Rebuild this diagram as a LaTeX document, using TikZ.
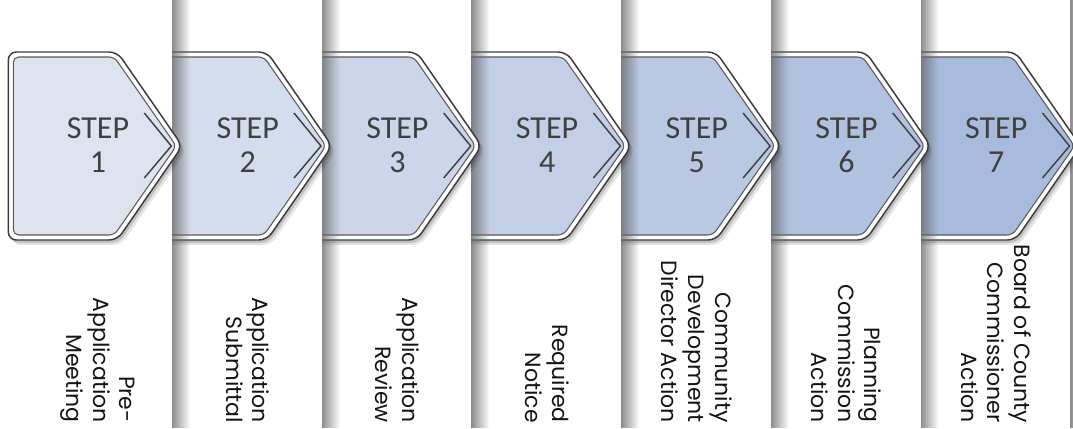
\documentclass[tikz,border=0pt]{standalone}
\usepackage{fontspec}
\newfontfamily\stepfont{Carlito}
\newfontfamily\labfont{Poppins}
\usetikzlibrary{fadings}
\definecolor{c1}{RGB}{221,228,240}
\definecolor{c2}{RGB}{212,221,237}
\definecolor{c3}{RGB}{203,214,234}
\definecolor{c4}{RGB}{195,207,231}
\definecolor{c5}{RGB}{186,201,227}
\definecolor{c6}{RGB}{177,194,224}
\definecolor{c7}{RGB}{168,187,221}
\definecolor{outline}{RGB}{60,60,60}
\definecolor{innerline}{RGB}{90,90,90}
\definecolor{steptext}{RGB}{64,64,64}
\definecolor{labtext}{RGB}{20,20,20}
\newcommand\ChevOuter[2]{(#1,52) -- (#2+95,52) -- (#2+160,146) -- (#2+95,240) -- (#1,240) -- cycle}
\newcommand\ChevInner[2]{(#1,57) -- (#2+92,57) -- (#2+154,146) -- (#2+92,235) -- (#1,235) -- cycle}
\begin{document}
\begin{tikzpicture}[x=0.75pt,y=-0.75pt,
  steptxt/.style={font=\stepfont\fontsize{24}{28}\selectfont, text=steptext, inner sep=0pt, anchor=base},
  labtxt/.style={font=\labfont\fontsize{16.5}{20}\selectfont, text=labtext, align=right, rotate=-90, anchor=east, inner sep=0pt},
  outerchev/.style={draw=outline, line width=1.1pt, fill=white, rounded corners=6pt},
  innerchev/.style={draw=innerline, line width=0.8pt, rounded corners=4pt},
  chevshadow/.style={fill=black, opacity=#1, rounded corners=6pt},
  markline/.style={draw=steptext, line width=1.1pt},
  colshadow/.style={fill=black!60, path fading=east},
]
\useasboundingbox (0,0) rectangle (1073,428);
\clip (0,0) rectangle (1073,428);
\fill[white] (0,0) rectangle (1073,428);
\foreach \i/\lab in {7/{Board of County\\Commissioner\\Action},
                     6/{Planning\\Commission\\Action},
                     5/{Community\\Development\\Director Action},
                     4/{Required\\Notice},
                     3/{Application\\Review},
                     2/{Application\\Submittal},
                     1/{Pre-\\Application\\Meeting}} {
  \pgfmathsetmacro\L{22.3+149.7*(\i-1)}
  \pgfmathsetmacro\R{\L+149.7}
  \pgfmathsetmacro\T{\L+75.7}
  \pgfmathsetmacro\Pl{ifthenelse(\i==1,0,\L)}
  \pgfmathsetmacro\Ol{\L-14}
  \pgfmathsetmacro\Il{\L-9}
  % shadow cast by this column onto the next one
  \fill[colshadow] (\R-6,0) rectangle (\R+18,428);
  % column panel
  \fill[white] (\Pl,0) rectangle (\R,428);
  % chevron drop shadow
  \fill[chevshadow=0.10, shift={(4,5)}] \ChevOuter{\Ol}{\L};
  \fill[chevshadow=0.15, shift={(2,3)}] \ChevOuter{\Ol}{\L};
  % chevron
  \path[outerchev] \ChevOuter{\Ol}{\L};
  \path[innerchev, fill=c\i] \ChevInner{\Il}{\L};
  \draw[markline] (\L+122,113) -- (\L+149,146) -- (\L+122,178);
  \node[steptxt] (step\i) at (\T,138) {STEP};
  \node[steptxt] (num\i) at (\T,172) {\i};
  \node[labtxt] (lab\i) at (\T,423) {\lab};
}
\end{tikzpicture}
\end{document}
